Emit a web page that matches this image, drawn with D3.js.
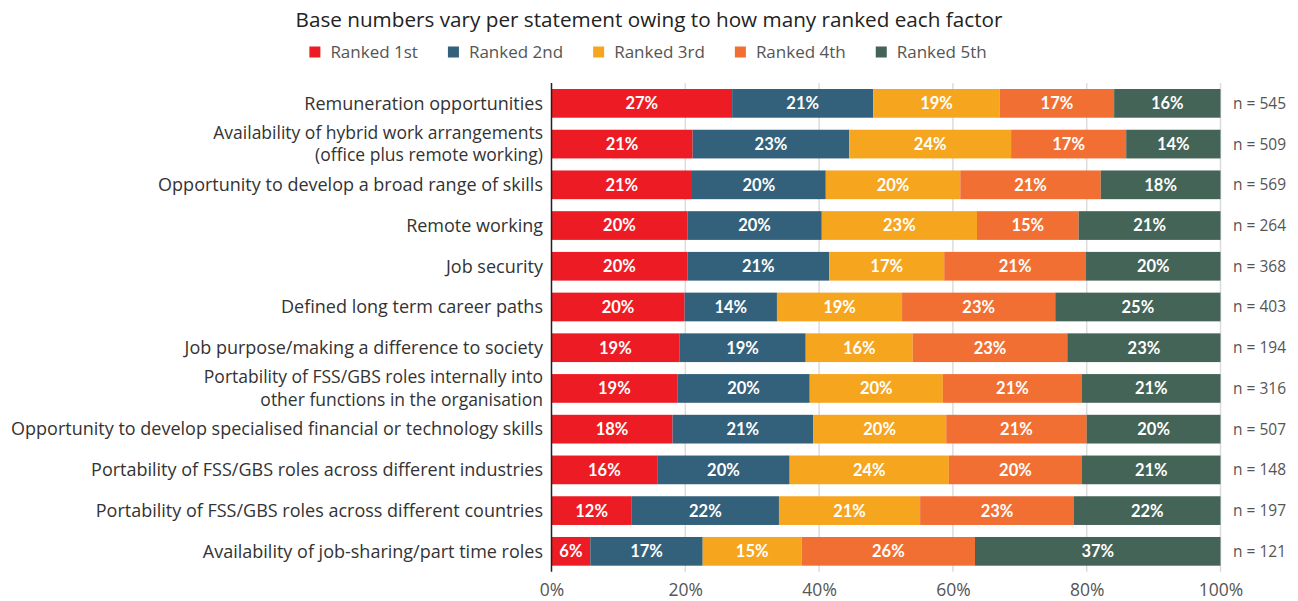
<!DOCTYPE html>
<html>
<head>
<meta charset="utf-8">
<script src="https://cdn.jsdelivr.net/npm/d3@7"></script>
<style>
  html, body { margin: 0; padding: 0; background: #fff; }
  svg { display: block; font-family: "Open Sans", Lato, sans-serif; }
</style>
</head>
<body>
<svg id="chart" width="1298" height="601"></svg>
<script>
const titleText = "Base numbers vary per statement owing to how many ranked each factor";
const categories = [
  "Remuneration opportunities",
  "Availability of hybrid work arrangements\n(office plus remote working)",
  "Opportunity to develop a broad range of skills",
  "Remote working",
  "Job security",
  "Defined long term career paths",
  "Job purpose/making a difference to society",
  "Portability of FSS/GBS roles internally into\nother functions in the organisation",
  "Opportunity to develop specialised financial or technology skills",
  "Portability of FSS/GBS roles across different industries",
  "Portability of FSS/GBS roles across different countries",
  "Availability of job-sharing/part time roles"
];
const seriesNames = ["Ranked 1st", "Ranked 2nd", "Ranked 3rd", "Ranked 4th", "Ranked 5th"];
const ranked1st = [27.0, 21.1, 21.0, 20.3, 20.3, 19.9, 19.1, 18.8, 18.1, 15.8, 12.0, 5.8];
const ranked2nd = [21.1, 23.4, 20.0, 20.1, 21.2, 13.8, 18.9, 19.8, 21.0, 19.8, 22.0, 16.8];
const ranked3rd = [18.9, 24.2, 20.1, 23.2, 17.2, 18.7, 16.0, 19.9, 19.9, 23.8, 21.1, 14.8];
const ranked4th = [17.1, 17.2, 21.0, 15.2, 21.2, 22.9, 23.1, 20.8, 21.0, 19.9, 23.0, 25.9];
const ranked5th = [15.9, 14.1, 17.9, 21.2, 20.1, 24.7, 22.9, 20.7, 20.0, 20.7, 21.9, 36.7];
const baseN = [545, 509, 569, 264, 368, 403, 194, 316, 507, 148, 197, 121];
const tickValues = [0, 20, 40, 60, 80, 100];
const colors = ["#ED1C24", "#33617C", "#F6A51F", "#F26F33", "#446457"];

const seriesData = [ranked1st, ranked2nd, ranked3rd, ranked4th, ranked5th];
const rows = categories.map((c, i) => {
  const r = { category: c, n: baseN[i] };
  seriesNames.forEach((s, j) => { r[s] = seriesData[j][i]; });
  return r;
});

const svg = d3.select("#chart");

const x = d3.scaleLinear().domain([0, 100]).range([551.5, 1220.5]);
const y = d3.scaleBand().domain(categories).range([82.9, 571.8]).paddingInner(0.295).paddingOuter(0.15);
const color = d3.scaleOrdinal().domain(seriesNames).range(colors);

// Title
svg.append("text")
  .attr("x", 649).attr("y", 27)
  .attr("text-anchor", "middle")
  .attr("font-size", 20.7)
  .attr("fill", "#222")
  .text(titleText);

// Legend
const legend = svg.append("g");
let lx = 0;
seriesNames.forEach((s, i) => {
  const g = legend.append("g");
  g.append("rect").attr("x", 0).attr("y", -5.5).attr("width", 11).attr("height", 11).attr("fill", colors[i]);
  const t = g.append("text").attr("x", 21).attr("y", 0).attr("dy", "0.35em")
    .attr("font-size", 17).attr("fill", "#555").text(s);
  const w = t.node().getComputedTextLength();
  g.attr("transform", `translate(${lx},52)`);
  lx += 21 + w + 30;
});
const legendW = lx - 30;
legend.attr("transform", `translate(${648 - legendW / 2},0)`);

// Gridlines
svg.append("g")
  .selectAll("line")
  .data(tickValues.filter(d => d > 0))
  .join("line")
  .attr("x1", d => x(d)).attr("x2", d => x(d))
  .attr("y1", y.range()[0]).attr("y2", y.range()[1])
  .attr("stroke", "#dcdcdc").attr("stroke-width", 1.5);

// Bars
const stack = d3.stack().keys(seriesNames);
const stacked = stack(rows);

const layers = svg.append("g").selectAll("g")
  .data(stacked)
  .join("g")
  .attr("fill", d => color(d.key));

layers.selectAll("rect")
  .data(d => d)
  .join("rect")
  .attr("x", d => x(d[0]))
  .attr("y", d => y(d.data.category))
  .attr("width", d => x(d[1]) - x(d[0]))
  .attr("height", y.bandwidth());

// Bar value labels
const labelG = svg.append("g");
stacked.forEach(layer => {
  labelG.selectAll(null)
    .data(layer)
    .join("text")
    .attr("x", d => (x(d[0]) + x(d[1])) / 2)
    .attr("y", d => y(d.data.category) + y.bandwidth() / 2)
    .attr("dy", "0.36em")
    .attr("text-anchor", "middle")
    .attr("font-family", "Lato, sans-serif")
    .attr("font-size", 16.5)
    .attr("font-weight", 700)
    .attr("fill", "#fff")
    .text(d => Math.round(d[1] - d[0]) + "%");
});

// Zero axis line
svg.append("line")
  .attr("x1", x(0)).attr("x2", x(0))
  .attr("y1", y.range()[0]).attr("y2", y.range()[1])
  .attr("stroke", "#222").attr("stroke-width", 1.5);

// Category labels (two-line labels as separate text elements)
const catG = svg.append("g");
categories.forEach(c => {
  const lines = c.split("\n");
  const cy = y(c) + y.bandwidth() / 2;
  lines.forEach((ln, k) => {
    catG.append("text")
      .attr("text-anchor", "end")
      .attr("font-size", lines.length > 1 ? 17.5 : 18)
      .attr("fill", "#333")
      .attr("x", 543)
      .attr("y", cy + (k - (lines.length - 1) / 2) * 22.5)
      .attr("dy", "0.35em")
      .text(ln);
  });
});

// n labels
svg.append("g").selectAll("text")
  .data(rows)
  .join("text")
  .attr("x", 1233)
  .attr("y", d => y(d.category) + y.bandwidth() / 2)
  .attr("dy", "0.35em")
  .attr("font-size", 15.5)
  .attr("fill", "#555")
  .text(d => "n = " + d.n);

// X axis
const xAxis = d3.axisBottom(x).tickValues(tickValues).tickFormat(d => d + "%").tickSize(0).tickPadding(12);
const ax = svg.append("g").attr("transform", `translate(0,${y.range()[1]})`).call(xAxis);
ax.select(".domain").remove();
ax.selectAll("text").attr("font-size", 17.5).attr("fill", "#555").attr("font-family", "'Open Sans', sans-serif");
</script>
</body>
</html>
